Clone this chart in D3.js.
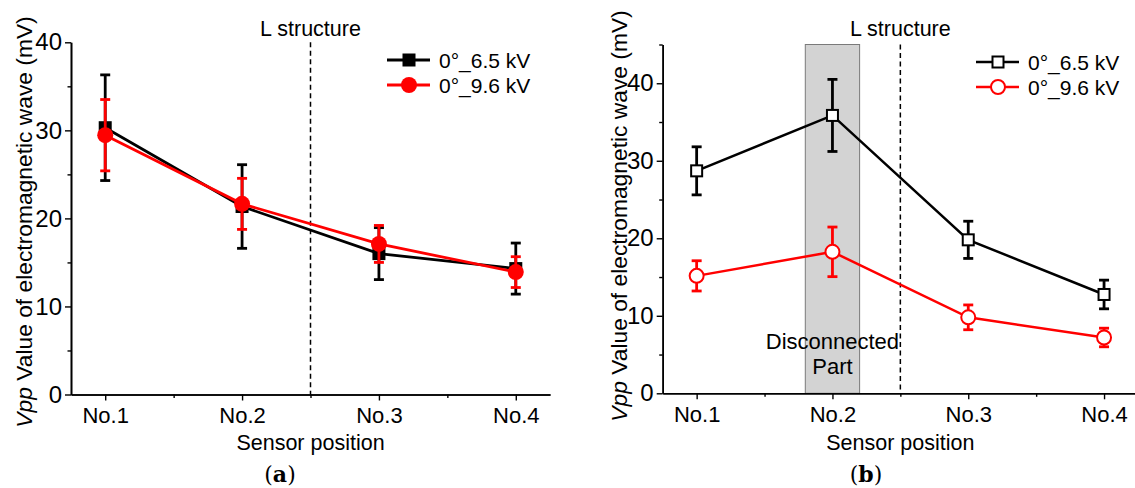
<!DOCTYPE html>
<html>
<head>
<meta charset="utf-8">
<script src="https://cdn.jsdelivr.net/npm/d3@7"></script>
<style>
  body { margin: 0; background: #fff; }
  svg text { font-family: "Liberation Sans", Arial, sans-serif; fill: #000; }
</style>
</head>
<body>
<div id="chart"></div>
<script>
const positions = ["No.1", "No.2", "No.3", "No.4"];
const seriesNames = ["0°_6.5 kV", "0°_9.6 kV"];

// panel (a)
const aBlackMean = [30.3, 21.35, 16.0, 14.3];
const aBlackErr = [6.0, 4.75, 2.95, 2.9];
const aRedMean = [29.45, 21.65, 17.1, 13.9];
const aRedErr = [4.05, 2.9, 2.1, 1.75];

// panel (b)
const bBlackMean = [28.7, 35.85, 19.8, 12.75];
const bBlackErr = [3.1, 4.65, 2.4, 1.85];
const bRedMean = [15.15, 18.25, 9.8, 7.2];
const bRedErr = [1.95, 3.2, 1.6, 1.2];

const yTicksA = [0, 10, 20, 30, 40];
const yTicksB = [0, 10, 20, 30, 40];

const svg = d3.select("#chart")
    .append("svg")
    .attr("width", 1135)
    .attr("height", 488);

function drawPanel(cfg) {
    const g = svg.append("g");
    const x = d3.scaleLinear().domain([0.75, 4.25]).range(cfg.xRange);
    const y = d3.scaleLinear().domain([0, cfg.yMax]).range(cfg.yRange);

    // shaded region (panel b only)
    if (cfg.shade) {
        g.append("rect")
            .attr("x", x(cfg.shade[0]))
            .attr("y", y(cfg.yMax))
            .attr("width", x(cfg.shade[1]) - x(cfg.shade[0]))
            .attr("height", y(0) - y(cfg.yMax))
            .attr("fill", "#d3d3d3")
            .attr("stroke", "#7a7a7a")
            .attr("stroke-width", 1);
        g.append("text")
            .attr("x", x(2))
            .attr("y", y(0) - 44)
            .attr("text-anchor", "middle")
            .style("font-size", "22px")
            .text("Disconnected");
        g.append("text")
            .attr("x", x(2))
            .attr("y", y(0) - 19)
            .attr("text-anchor", "middle")
            .style("font-size", "22px")
            .text("Part");
    }

    // L structure divider
    g.append("line")
        .attr("x1", x(2.5)).attr("x2", x(2.5))
        .attr("y1", y(cfg.yMax)).attr("y2", y(0))
        .attr("stroke", "#000")
        .attr("stroke-width", 1.5)
        .attr("stroke-dasharray", "5,3.5");
    g.append("text")
        .attr("x", x(2.5))
        .attr("y", 36)
        .attr("text-anchor", "middle")
        .style("font-size", "21.5px")
        .text("L structure");

    // axes
    g.append("g")
        .attr("transform", `translate(0,${y(0)})`)
        .call(d3.axisBottom(x).tickValues([1, 2, 3, 4])
            .tickFormat(d => positions[d - 1])
            .tickSize(6).tickSizeOuter(0).tickPadding(7))
        .selectAll("text").style("font-size", "22px");
    g.append("g")
        .attr("transform", `translate(0,${y(0)})`)
        .call(d3.axisBottom(x).tickValues([1.5, 2.5, 3.5])
            .tickFormat("").tickSize(3.5).tickSizeOuter(0));

    g.append("g")
        .attr("transform", `translate(${cfg.xRange[0]},0)`)
        .call(d3.axisLeft(y).tickValues(cfg.yTicks)
            .tickSize(6).tickSizeOuter(0).tickPadding(3))
        .selectAll("text").style("font-size", "24px");
    const minor = d3.range(5, cfg.yMax + 1, 10);
    g.append("g")
        .attr("transform", `translate(${cfg.xRange[0]},0)`)
        .call(d3.axisLeft(y).tickValues(minor)
            .tickFormat("").tickSize(3.5).tickSizeOuter(0));

    g.selectAll(".domain").attr("stroke-width", 1.6);
    g.selectAll(".tick line").attr("stroke-width", 1.4);
    g.selectAll(".tick text")
        .style("font-family", "'Liberation Sans', Arial, sans-serif");

    // axis titles
    const yt = g.append("text")
        .attr("transform", `translate(${cfg.yTitleX},${cfg.yTitleY}) rotate(-90)`)
        .attr("text-anchor", "middle")
        .attr("dominant-baseline", "central")
        .style("font-size", "22.8px");
    yt.append("tspan").style("font-style", "italic").text("Vpp");
    yt.append("tspan").text(" Value of electromagnetic wave (mV)");

    g.append("text")
        .attr("x", (cfg.xRange[0] + cfg.xRange[1]) / 2)
        .attr("y", 450)
        .attr("text-anchor", "middle")
        .style("font-size", "21.5px")
        .text("Sensor position");

    const lab = g.append("text")
        .attr("x", cfg.labelX)
        .attr("y", 482)
        .attr("text-anchor", "middle")
        .style("font-family", "'DejaVu Serif', 'Liberation Serif', serif")
        .style("font-size", "22px");
    lab.append("tspan").text("(");
    lab.append("tspan").style("font-weight", "bold").text(cfg.label);
    lab.append("tspan").text(")");

    // series
    const line = d3.line().x((d, i) => x(i + 1)).y(d => y(d));
    cfg.series.forEach(s => {
        const sg = g.append("g");
        sg.append("path")
            .datum(s.mean)
            .attr("d", line)
            .attr("fill", "none")
            .attr("stroke", s.color)
            .attr("stroke-width", cfg.lineWidth);

        const pts = s.mean.map((m, i) => ({ i: i + 1, m: m, e: s.err[i] }));
        sg.selectAll(".err")
            .data(pts)
            .join("line")
            .attr("x1", d => x(d.i)).attr("x2", d => x(d.i))
            .attr("y1", d => y(d.m - d.e)).attr("y2", d => y(d.m + d.e))
            .attr("stroke", s.color).attr("stroke-width", 2.8);
        [-1, 1].forEach(sign => {
            sg.selectAll(".cap" + sign)
                .data(pts)
                .join("line")
                .attr("x1", d => x(d.i) - 5).attr("x2", d => x(d.i) + 5)
                .attr("y1", d => y(d.m + sign * d.e)).attr("y2", d => y(d.m + sign * d.e))
                .attr("stroke", s.color).attr("stroke-width", 2.8);
        });

        if (s.shape === "square") {
            sg.selectAll(".mk")
                .data(pts)
                .join("rect")
                .attr("x", d => x(d.i) - s.size / 2)
                .attr("y", d => y(d.m) - s.size / 2)
                .attr("width", s.size).attr("height", s.size)
                .attr("fill", s.fill)
                .attr("stroke", s.color).attr("stroke-width", s.open ? 2 : 0);
        } else {
            sg.selectAll(".mk")
                .data(pts)
                .join("circle")
                .attr("cx", d => x(d.i)).attr("cy", d => y(d.m))
                .attr("r", s.size / 2)
                .attr("fill", s.fill)
                .attr("stroke", s.color).attr("stroke-width", s.open ? 2 : 0);
        }
    });

    // legend
    const lg = g.append("g");
    cfg.series.forEach((s, k) => {
        const ly = cfg.legend.y + k * 25;
        lg.append("line")
            .attr("x1", cfg.legend.x).attr("x2", cfg.legend.x + 43)
            .attr("y1", ly).attr("y2", ly)
            .attr("stroke", s.color).attr("stroke-width", cfg.lineWidth);
        const cx = cfg.legend.x + 22;
        if (s.shape === "square") {
            lg.append("rect")
                .attr("x", cx - s.size / 2).attr("y", ly - s.size / 2)
                .attr("width", s.size).attr("height", s.size)
                .attr("fill", s.fill)
                .attr("stroke", s.color).attr("stroke-width", s.open ? 2 : 0);
        } else {
            lg.append("circle")
                .attr("cx", cx).attr("cy", ly).attr("r", s.size / 2)
                .attr("fill", s.fill)
                .attr("stroke", s.color).attr("stroke-width", s.open ? 2 : 0);
        }
        lg.append("text")
            .attr("x", cfg.legend.x + 52)
            .attr("y", ly)
            .attr("dominant-baseline", "central")
            .style("font-size", "21px")
            .text(seriesNames[k]);
    });
}

drawPanel({
    xRange: [71, 550],
    yRange: [394.5, 42.3],
    yMax: 40,
    yTicks: yTicksA,
    yTitleX: 24,
    yTitleY: 222,
    labelX: 280,
    label: "a",
    lineWidth: 2.8,
    legend: { x: 387, y: 60 },
    series: [
        { mean: aBlackMean, err: aBlackErr, color: "#000", fill: "#000", shape: "square", size: 13, open: false },
        { mean: aRedMean, err: aRedErr, color: "#ff0000", fill: "#ff0000", shape: "circle", size: 16, open: false }
    ]
});

drawPanel({
    xRange: [662.7, 1138],
    yRange: [393.3, 44.5],
    yMax: 45,
    yTicks: yTicksB,
    yTitleX: 619,
    yTitleY: 216,
    labelX: 866,
    label: "b",
    lineWidth: 2.5,
    shade: [1.8, 2.2],
    legend: { x: 976, y: 62 },
    series: [
        { mean: bBlackMean, err: bBlackErr, color: "#000", fill: "#fff", shape: "square", size: 11, open: true },
        { mean: bRedMean, err: bRedErr, color: "#ff0000", fill: "#fff", shape: "circle", size: 14, open: true }
    ]
});
</script>
</body>
</html>
